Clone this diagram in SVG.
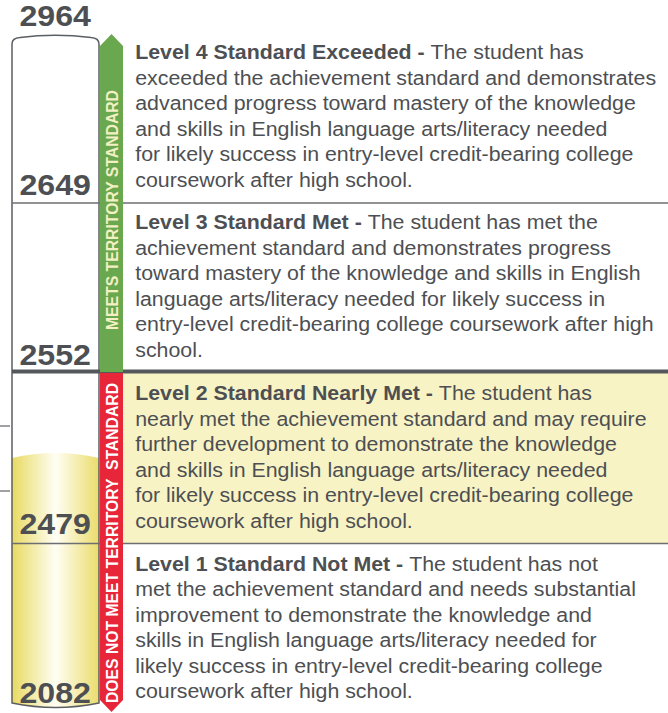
<svg xmlns="http://www.w3.org/2000/svg" width="668" height="713" viewBox="0 0 668 713">
<defs>
<linearGradient id="tubeY" x1="0" y1="0" x2="1" y2="0">
<stop offset="0" stop-color="#e8da62"/>
<stop offset="0.5" stop-color="#fffef4"/>
<stop offset="1" stop-color="#ebdc6c"/>
</linearGradient>
<style>
.num{font-family:"Liberation Sans",Arial,sans-serif;font-weight:bold;font-size:29.5px;fill:#4d4f53;text-anchor:middle}
.body{font-family:"Liberation Sans",Arial,sans-serif;font-size:19.5px;fill:#4d4f53}
.b{font-weight:bold}
.side{font-family:"Liberation Sans",Arial,sans-serif;font-weight:bold;font-size:16.5px;text-anchor:middle}
.thin{stroke:#6d6e71;stroke-width:1.3;fill:none}
</style>
</defs>
<rect width="668" height="713" fill="#ffffff"/>
<g id="band-level2-bg">
<rect x="123" y="373" width="545" height="170" fill="#f8f3c5"/>
</g>
<g id="tube">
<path d="M12,458 Q55,448 99,458 L99,703 Q55.5,712 12,703 Z" fill="url(#tubeY)"/>
<path d="M12,703 L12,44 Q12,38 20,37.5 Q55,33 91,37.5 Q99,38 99,44 L99,703 Q55.5,712 12,703 Z" fill="none" stroke="#5b5e62" stroke-width="1.5"/>
</g>
<g id="dividers">
<line class="thin" x1="12" y1="203" x2="668" y2="203"/>
<line x1="12" y1="371.5" x2="668" y2="371.5" stroke="#54585c" stroke-width="4"/>
<line class="thin" x1="12" y1="543.5" x2="668" y2="543.5"/>
<line class="thin" x1="0" y1="426" x2="10" y2="426"/>
<line class="thin" x1="0" y1="491" x2="10" y2="491"/>
</g>
<g id="meets-bar">
<path d="M100,46 L111.5,34 L123,46 L123,372 L100,372 Z" fill="#6aa84f"/>
<text class="side" fill="#f3f0c4" transform="translate(117.5,210) rotate(-90)" textLength="240" lengthAdjust="spacingAndGlyphs">MEETS TERRITORY STANDARD</text>
</g>
<g id="not-meet-bar">
<path d="M100,373 L123,373 L123,700 L111.5,712 L100,700 Z" fill="#e8263a"/>
<text class="side" fill="#ffffff" transform="translate(117.5,543) rotate(-90)" textLength="320" lengthAdjust="spacingAndGlyphs" xml:space="preserve">DOES NOT MEET TERRITORY  STANDARD</text>
</g>
<g id="scores" transform="scale(1.09 1)">
<text class="num" x="50.7" y="26">2964</text>
<text class="num" x="50.7" y="195">2649</text>
<text class="num" x="50.7" y="365">2552</text>
<text class="num" x="50.7" y="534">2479</text>
<text class="num" x="50.7" y="703">2082</text>
</g>
<g id="level4" transform="scale(1.095 1)">
<text class="body" x="123.5" y="59.5"><tspan class="b">Level 4 Standard Exceeded - </tspan>The student has</text>
<text class="body" x="123.5" y="85">exceeded the achievement standard and demonstrates</text>
<text class="body" x="123.5" y="110.5">advanced progress toward mastery of the knowledge</text>
<text class="body" x="123.5" y="136">and skills in English language arts/literacy needed</text>
<text class="body" x="123.5" y="161.5">for likely success in entry-level credit-bearing college</text>
<text class="body" x="123.5" y="187">coursework after high school.</text>
</g>
<g id="level3" transform="scale(1.095 1)">
<text class="body" x="123.5" y="229.5"><tspan class="b">Level 3 Standard Met - </tspan>The student has met the</text>
<text class="body" x="123.5" y="255">achievement standard and demonstrates progress</text>
<text class="body" x="123.5" y="280.5">toward mastery of the knowledge and skills in English</text>
<text class="body" x="123.5" y="306">language arts/literacy needed for likely success in</text>
<text class="body" x="123.5" y="331.5">entry-level credit-bearing college coursework after high</text>
<text class="body" x="123.5" y="357">school.</text>
</g>
<g id="level2" transform="scale(1.095 1)">
<text class="body" x="123.5" y="400.5"><tspan class="b">Level 2 Standard Nearly Met - </tspan>The student has</text>
<text class="body" x="123.5" y="426">nearly met the achievement standard and may require</text>
<text class="body" x="123.5" y="451.5">further development to demonstrate the knowledge</text>
<text class="body" x="123.5" y="477">and skills in English language arts/literacy needed</text>
<text class="body" x="123.5" y="502.5">for likely success in entry-level credit-bearing college</text>
<text class="body" x="123.5" y="528">coursework after high school.</text>
</g>
<g id="level1" transform="scale(1.095 1)">
<text class="body" x="123.5" y="571"><tspan class="b">Level 1 Standard Not Met - </tspan>The student has not</text>
<text class="body" x="123.5" y="596.5">met the achievement standard and needs substantial</text>
<text class="body" x="123.5" y="622">improvement to demonstrate the knowledge and</text>
<text class="body" x="123.5" y="647.5">skills in English language arts/literacy needed for</text>
<text class="body" x="123.5" y="673">likely success in entry-level credit-bearing college</text>
<text class="body" x="123.5" y="698.5">coursework after high school.</text>
</g>
</svg>
